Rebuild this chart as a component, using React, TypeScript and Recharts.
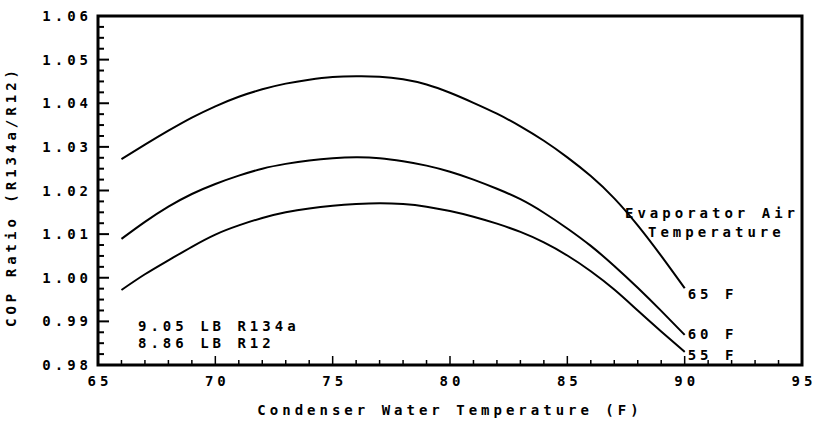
import React from "react";
import { LineChart, Line, XAxis, YAxis, ReferenceArea } from "recharts";

// condenser water temperature (F)
const condTemp = [66, 67, 68, 69, 70, 71, 72, 73, 74, 75, 76, 77, 78, 79, 80, 81, 82, 83, 84, 85, 86, 87, 88, 89, 90];
// COP ratio R134a / R12 for each evaporator air temperature
const evap65 = [1.0272, 1.0305, 1.0337, 1.0367, 1.0393, 1.0415, 1.0432, 1.0445, 1.0454, 1.046, 1.0462, 1.0461, 1.0455, 1.0443, 1.0424, 1.0401, 1.0376, 1.0347, 1.0314, 1.0276, 1.0233, 1.0182, 1.012, 1.005, 0.9976];
const evap60 = [1.0089, 1.0128, 1.0163, 1.0192, 1.0215, 1.0234, 1.025, 1.0261, 1.0269, 1.0274, 1.0276, 1.0274, 1.0267, 1.0257, 1.0243, 1.0225, 1.0204, 1.018, 1.0149, 1.0113, 1.0073, 1.0027, 0.9977, 0.9924, 0.9869];
const evap55 = [0.9972, 1.0008, 1.004, 1.0071, 1.0099, 1.012, 1.0137, 1.015, 1.0159, 1.0165, 1.0169, 1.0171, 1.0169, 1.0163, 1.0153, 1.014, 1.0124, 1.0105, 1.0081, 1.0051, 1.0015, 0.9973, 0.9925, 0.9877, 0.983];

const xTicks = [65, 66, 67, 68, 69, 70, 71, 72, 73, 74, 75, 76, 77, 78, 79, 80, 81, 82, 83, 84, 85, 86, 87, 88, 89, 90, 91, 92, 93, 94, 95];
const yTicks = Array.from({ length: 33 }, (_, i) => Math.round((0.98 + i * 0.0025) * 10000) / 10000);

const series = [
  { key: "e65", label: "65 F", values: evap65, dy: 11 },
  { key: "e60", label: "60 F", values: evap60, dy: 4 },
  { key: "e55", label: "55 F", values: evap55, dy: 8 },
];

const data = condTemp.map((t, i) => ({ t, e65: evap65[i], e60: evap60[i], e55: evap55[i] }));

const font = "'DejaVu Sans Mono', monospace";
const txt = { fontFamily: font, fontSize: 14, fontWeight: 700, letterSpacing: 4, fill: "#000" };

const YTick = (props: any) => {
  const { x, y, payload } = props;
  const v = payload.value;
  const major = Math.round(v * 10000) % 100 === 0;
  return (
    <g>
      <line x1={x} x2={x + (major ? 11 : 6)} y1={y} y2={y} stroke="#000" strokeWidth={2} />
      {major && (
        <text x={x - 6} y={y} dy={5} textAnchor="end" style={txt}>
          {v.toFixed(2)}
        </text>
      )}
    </g>
  );
};

const XTick = (props: any) => {
  const { x, y, payload } = props;
  const v = payload.value;
  const major = v % 5 === 0;
  return (
    <g>
      <line x1={x} x2={x} y1={y} y2={y - (major ? 9 : 5)} stroke="#000" strokeWidth={1.5} />
      {major && (
        <text x={x + 2} y={y + 21} textAnchor="middle" style={txt}>
          {v}
        </text>
      )}
    </g>
  );
};

export default function App() {
  return (
    <div style={{ position: "absolute", left: 0, top: 0, width: 817, height: 427, background: "#fff" }}>
      <LineChart width={817} height={427} data={data} margin={{ top: 16, right: 15, left: 0, bottom: 0 }}>
        <ReferenceArea x1={65} x2={95} y1={0.98} y2={1.06} fill="none" stroke="#000" strokeWidth={3} ifOverflow="visible" />
        <XAxis
          dataKey="t"
          type="number"
          domain={[65, 95]}
          ticks={xTicks}
          interval={0}
          height={62}
          tickSize={0}
          tickMargin={0}
          axisLine={false}
          tick={<XTick />}
          label={{
            content: (p: any) => {
              const vb = p.viewBox;
              return (
                <text x={vb.x + vb.width / 2} y={vb.y + 50} textAnchor="middle" style={txt}>
                  Condenser Water Temperature  (F)
                </text>
              );
            },
          }}
        />
        <YAxis
          type="number"
          domain={[0.98, 1.06]}
          ticks={yTicks}
          interval={0}
          width={98}
          tickSize={0}
          tickMargin={0}
          axisLine={false}
          allowDataOverflow
          tick={<YTick />}
          label={{
            content: (p: any) => {
              const vb = p.viewBox;
              const cx = vb.x + 16;
              const cy = vb.y + vb.height / 2 + 6;
              return (
                <text x={cx} y={cy} textAnchor="middle" transform={`rotate(-90 ${cx} ${cy})`} style={txt}>
                  COP Ratio  (R134a/R12)
                </text>
              );
            },
          }}
        />
        {series.map((s) => (
          <Line
            key={s.key}
            dataKey={s.key}
            type="natural"
            stroke="#000"
            strokeWidth={2}
            dot={false}
            isAnimationActive={false}
            label={(p: any) =>
              p.index === condTemp.length - 1 ? (
                <text key={s.key + "lbl"} x={p.x + 3} y={p.y + s.dy} style={txt}>
                  {s.label}
                </text>
              ) : (
                <g key={s.key + p.index} />
              )
            }
          />
        ))}
      </LineChart>
      <svg width={817} height={427} style={{ position: "absolute", left: 0, top: 0, pointerEvents: "none" }}>
        <text x={625} y={218} style={txt}>Evaporator Air</text>
        <text x={648} y={237} style={txt}>Temperature</text>
        <text x={138} y={331} style={txt}>9.05 LB R134a</text>
        <text x={138} y={348} style={txt}>8.86 LB R12</text>
      </svg>
    </div>
  );
}
